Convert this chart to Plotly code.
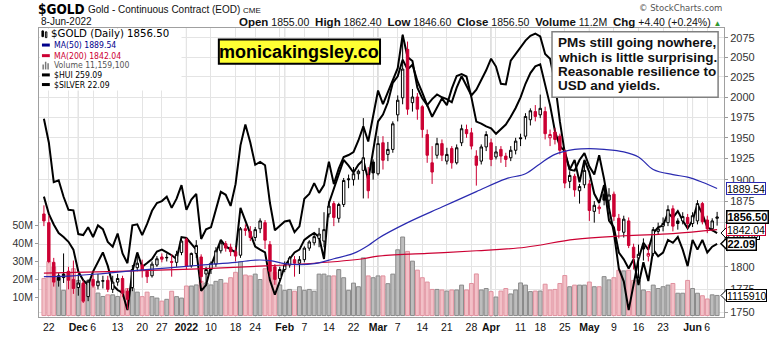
import math
import plotly.graph_objects as go

# ---------------- data ----------------
MONTH_DAYS = [
    (2021, 11, [19, 22, 23, 24, 26, 29, 30]),
    (2021, 12, [1, 2, 3, 6, 7, 8, 9, 10, 13, 14, 15, 16, 17, 20, 21, 22, 23, 27, 28, 29, 30, 31]),
    (2022, 1, [3, 4, 5, 6, 7, 10, 11, 12, 13, 14, 18, 19, 20, 21, 24, 25, 26, 27, 28, 31]),
    (2022, 2, [1, 2, 3, 4, 7, 8, 9, 10, 11, 14, 15, 16, 17, 18, 22, 23, 24, 25, 28]),
    (2022, 3, [1, 2, 3, 4, 7, 8, 9, 10, 11, 14, 15, 16, 17, 18, 21, 22, 23, 24, 25, 28, 29, 30, 31]),
    (2022, 4, [1, 4, 5, 6, 7, 8, 11, 12, 13, 14, 18, 19, 20, 21, 22, 25, 26, 27, 28, 29]),
    (2022, 5, [2, 3, 4, 5, 6, 9, 10, 11, 12, 13, 16, 17, 18, 19, 20, 23, 24, 25, 26, 27, 31]),
    (2022, 6, [1, 2, 3, 6, 7, 8]),
]
DATES = [f"{y}-{m:02d}-{d:02d}" for (y, m, days) in MONTH_DAYS for d in days]

OPEN = [1860, 1850, 1805, 1790, 1792, 1795, 1786, 1777, 1782, 1767,
        1786, 1779, 1784, 1785, 1775, 1783, 1787, 1773, 1777, 1799,
        1802, 1795, 1790, 1802, 1811, 1810, 1806, 1805, 1816, 1831,
        1801, 1815, 1811, 1792, 1797, 1803, 1818, 1826, 1822, 1817,
        1813, 1843, 1840, 1833, 1843, 1850, 1825, 1800, 1787, 1797,
        1802, 1808, 1804, 1808, 1821, 1827, 1832, 1829, 1860, 1872,
        1855, 1871, 1901, 1900, 1907, 1911, 1905, 1921, 1907, 1944,
        1930, 1936, 1978, 1999, 2060, 1993, 2000, 1988, 1954, 1920,
        1929, 1943, 1922, 1937, 1920, 1944, 1960, 1956, 1928, 1922,
        1939, 1944, 1927, 1936, 1928, 1926, 1935, 1950, 1952, 1972,
        1982, 1978, 1982, 1950, 1957, 1952, 1934, 1898, 1904, 1887,
        1894, 1895, 1863, 1866, 1883, 1876, 1883, 1855, 1839, 1852,
        1822, 1810, 1823, 1812, 1815, 1840, 1846, 1850, 1866, 1852,
        1852, 1856, 1849, 1852, 1872, 1853, 1843, 1855]
HIGH = [1870, 1858, 1810, 1793, 1815, 1800, 1807, 1792, 1785, 1786,
        1792, 1792, 1790, 1790, 1790, 1792, 1790, 1776, 1802, 1815,
        1808, 1797, 1806, 1812, 1815, 1815, 1814, 1818, 1832, 1833,
        1816, 1830, 1814, 1800, 1806, 1822, 1830, 1829, 1826, 1822,
        1845, 1848, 1846, 1845, 1855, 1853, 1829, 1803, 1800, 1806,
        1812, 1812, 1812, 1823, 1830, 1838, 1844, 1862, 1875, 1875,
        1873, 1902, 1906, 1915, 1912, 1974, 1915, 1924, 1952, 1952,
        1945, 1970, 2002, 2079, 2070, 2010, 2005, 1990, 1960, 1940,
        1950, 1948, 1938, 1940, 1942, 1966, 1966, 1962, 1935, 1942,
        1958, 1949, 1940, 1940, 1932, 1940, 1950, 1955, 1980, 1986,
        1990, 2003, 1988, 1960, 1962, 1955, 1936, 1910, 1907, 1895,
        1920, 1900, 1875, 1871, 1893, 1890, 1886, 1860, 1858, 1856,
        1826, 1825, 1832, 1825, 1845, 1850, 1856, 1870, 1870, 1855,
        1862, 1860, 1862, 1876, 1874, 1858, 1855, 1862.4]
LOW = [1846, 1804, 1778, 1778, 1782, 1775, 1770, 1768, 1760, 1762,
       1777, 1775, 1776, 1772, 1771, 1779, 1767, 1753, 1773, 1795,
       1788, 1782, 1788, 1800, 1805, 1806, 1789, 1800, 1813, 1797,
       1799, 1810, 1782, 1782, 1792, 1800, 1815, 1817, 1812, 1806,
       1810, 1835, 1829, 1829, 1838, 1820, 1789, 1780, 1785, 1794,
       1799, 1789, 1792, 1805, 1818, 1824, 1822, 1822, 1856, 1846,
       1850, 1868, 1890, 1893, 1900, 1878, 1878, 1900, 1905, 1912,
       1922, 1932, 1970, 1991, 1978, 1982, 1972, 1950, 1920, 1895,
       1925, 1922, 1918, 1913, 1918, 1940, 1950, 1936, 1893, 1918,
       1934, 1916, 1924, 1920, 1915, 1922, 1930, 1940, 1948, 1965,
       1970, 1974, 1948, 1940, 1942, 1930, 1890, 1890, 1880, 1872,
       1890, 1852, 1850, 1860, 1870, 1867, 1852, 1832, 1833, 1821,
       1797, 1787, 1807, 1806, 1812, 1836, 1840, 1846, 1840, 1842,
       1848, 1843, 1845, 1848, 1848, 1838, 1840, 1846.6]
CLOSE = [1852, 1806, 1783, 1785, 1788, 1785, 1776, 1782, 1762, 1784,
         1779, 1784, 1784.5, 1775, 1783, 1787, 1771, 1764, 1797, 1804,
         1796, 1789, 1803, 1809, 1808.5, 1810.5, 1805, 1814, 1829, 1801,
         1815, 1824, 1789, 1797, 1804, 1818, 1827, 1821, 1817, 1812,
         1843, 1841, 1833, 1842, 1852, 1830, 1795, 1786, 1797, 1802,
         1810, 1804, 1808, 1821, 1828, 1834, 1837, 1842, 1869, 1856,
         1871, 1899, 1900, 1907, 1910, 1926, 1887, 1908, 1943, 1923,
         1936, 1967, 1996, 2035, 1985, 2000, 1985, 1960, 1929, 1909,
         1943, 1929, 1930, 1920, 1938, 1961, 1955, 1940, 1917, 1939,
         1954, 1924, 1933, 1928, 1924, 1935, 1946, 1949, 1976, 1983,
         1976, 1986, 1955, 1954, 1948, 1935, 1896, 1905, 1888, 1892,
         1911, 1864, 1870, 1868, 1876, 1882, 1857, 1841, 1854, 1824,
         1810, 1814, 1820, 1815, 1842, 1843, 1849, 1865, 1846, 1849,
         1857, 1849, 1858, 1872, 1851, 1843, 1852, 1856.5]
PREV_CLOSE = 1862.0

VOLUME_M = [20.6, 30.0, 27.0, 21.0, 14.0, 24.0, 26.0, 19.5, 17.0, 19.5,
            16.0, 12.5, 10.6, 11.5, 11.5, 10.6, 14.0, 15.0, 15.0, 13.0,
            10.5, 13.0, 10.5, 9.7, 8.0, 9.0, 13.5, 10.5, 9.7, 16.4,
            16.4, 17.0, 19.0, 18.0, 17.0, 19.0, 20.0, 18.0, 21.0, 24.0,
            30.0, 22.5, 22.0, 23.0, 20.0, 26.0, 28.0, 24.0, 17.0, 14.0,
            14.5, 13.5, 16.0, 14.0, 14.5, 13.5, 23.0, 23.0, 22.0, 22.0,
            25.5, 21.0, 14.0, 18.0, 16.0, 32.0, 22.0, 21.0, 22.0, 22.0,
            17.7, 23.0, 36.5, 43.6, 35.6, 30.2, 25.2, 21.0, 18.6, 14.5,
            14.5, 14.2, 13.6, 14.2, 14.2, 16.9, 14.2, 17.8, 23.1, 14.2,
            15.0, 13.3, 10.3, 13.6, 15.0, 12.0, 14.2, 18.1, 16.9, 13.3,
            13.6, 13.6, 17.4, 14.2, 14.5, 17.8, 22.2, 16.0, 16.9, 16.9,
            16.9, 18.6, 16.0, 16.0, 21.6, 19.8, 21.0, 25.2, 24.8, 25.2,
            19.5, 19.5, 14.2, 13.3, 16.9, 15.0, 16.0, 16.9, 17.8, 12.4,
            12.4, 19.5, 15.0, 12.4, 11.0, 9.2, 11.5, 11.1591]

HUI = [270.7, 265.2, 261.8, 259.1, 257.8, 256.3, 253.8, 246.8, 244.0, 242.5,
       246.8, 249.8, 252.9, 248.6, 242.5, 240.9, 240.0, 234.5, 246.8, 252.9,
       248.3, 249.5, 250.8, 253.2, 253.8, 252.9, 252.0, 250.8, 257.8, 257.5,
       255.7, 253.8, 240.6, 242.5, 248.6, 252.6, 256.9, 254.8, 253.8, 252.9,
       267.1, 263.1, 259.4, 254.8, 253.8, 252.9, 244.0, 239.4, 243.7, 248.6,
       250.8, 252.9, 253.8, 256.9, 258.1, 259.1, 257.8, 250.8, 268.6, 273.2,
       277.8, 282.4, 280.6, 278.4, 280.9, 282.4, 276.0, 285.5, 294.7, 296.9,
       300.8, 307.0, 309.1, 314.4, 311.3, 312.8, 307.6, 303.9, 299.9, 301.8,
       303.3, 302.4, 301.8, 300.8, 305.5, 309.1, 306.1, 303.0, 304.8, 307.9,
       311.0, 314.7, 312.2, 306.7, 306.5, 314.1, 316.2, 318.4, 320.5, 322.0,
       322.7, 321.8, 316.2, 314.7, 307.0, 294.7, 284.6, 279.3, 279.0, 282.4,
       284.6, 280.3, 277.8, 283.9, 276.3, 267.1, 259.1, 247.7, 243.7, 234.5,
       242.5, 250.8, 256.0, 253.8, 259.1, 260.9, 261.5, 265.5, 264.0, 266.1,
       263.1, 260.6, 263.1, 268.3, 265.2, 260.9, 260.0, 259.09]

SILVER = [24.67, 24.18, 23.36, 23.40, 23.06, 22.79, 22.78, 22.29, 22.27, 22.43,
          22.23, 22.47, 22.39, 22.13, 22.03, 22.30, 21.89, 21.69, 22.47, 22.49,
          22.27, 22.50, 22.77, 22.93, 22.97, 23.06, 22.83, 23.02, 23.30, 22.79,
          23.00, 23.12, 22.19, 22.39, 22.43, 22.79, 23.16, 23.10, 22.87, 23.32,
          24.12, 24.55, 24.18, 23.72, 23.78, 23.71, 22.93, 22.37, 22.47, 22.55,
          22.57, 22.33, 22.45, 23.02, 23.12, 23.34, 23.14, 23.30, 23.78, 23.32,
          23.64, 23.88, 23.92, 23.98, 24.22, 24.51, 24.20, 24.71, 25.25, 24.97,
          25.21, 25.47, 25.71, 26.40, 25.94, 25.86, 25.31, 25.09, 24.95, 24.71,
          24.89, 25.09, 24.95, 25.29, 25.55, 25.59, 25.54, 25.11, 24.61, 24.57,
          24.51, 24.47, 24.36, 24.45, 24.55, 24.71, 24.89, 25.11, 25.39, 25.61,
          25.75, 25.79, 25.35, 24.95, 24.41, 24.10, 24.00, 23.62, 23.82, 23.36,
          23.82, 23.56, 23.12, 22.93, 23.30, 22.57, 22.43, 21.91, 21.77, 21.58,
          21.77, 21.24, 21.71, 21.32, 21.97, 21.83, 21.91, 22.17, 22.11, 22.23,
          21.97, 21.63, 22.17, 21.97, 22.17, 21.91, 22.03, 22.09]

MA50_IDX = [0, 6, 12, 19, 26, 32, 39, 43, 46, 49, 52, 55, 59, 63, 66, 68, 74, 81, 88, 94,
            98, 101, 104, 108, 111, 114, 118, 121, 124, 128, 131, 134, 137]
MA50 = [1789, 1790, 1792.5, 1796, 1799, 1802, 1805, 1807.5, 1807, 1803.5,
        1802.5, 1803.5, 1809, 1815, 1824, 1832, 1850, 1868, 1886, 1901,
        1907, 1919, 1930, 1936, 1937, 1936, 1933, 1927, 1912, 1906,
        1903, 1897, 1889.54]
MA200_IDX = [0, 15, 30, 45, 55, 65, 68, 78, 88, 98, 108, 118, 128, 137]
MA200 = [1793, 1795, 1797.5, 1801, 1804, 1809, 1812, 1815, 1818, 1822, 1831, 1835, 1837.5, 1842.04]

PRICE_TICKS = [1750, 1775, 1800, 1825, 1850, 1875, 1900, 1925, 1950, 1975, 2000, 2025, 2050, 2075]
VOL_TICKS = [10, 20, 30, 40, 50]

WEEK_TICKS = ["2021-11-22", "2021-11-29", "2021-12-06", "2021-12-13", "2021-12-20", "2021-12-27",
              "2022-01-10", "2022-01-18", "2022-01-24", "2022-01-31", "2022-02-07", "2022-02-14",
              "2022-02-22", "2022-02-28", "2022-03-07", "2022-03-14", "2022-03-21", "2022-03-28",
              "2022-04-04", "2022-04-11", "2022-04-18", "2022-04-25", "2022-05-09", "2022-05-16",
              "2022-05-23", "2022-05-31", "2022-06-06"]
WEEK_LABELS = ["22", "", "6", "13", "20", "27", "10", "18", "24", "", "7", "14", "22", "", "7", "14",
               "21", "28", "", "11", "18", "25", "9", "16", "23", "", "6"]
MONTH_TICKS = ["2021-12-01", "2022-01-03", "2022-02-01", "2022-03-01", "2022-04-01", "2022-05-02", "2022-06-01"]
MONTH_LABELS = ["Dec", "2022", "Feb", "Mar", "Apr", "May", "Jun"]

# ---------------- style ----------------
RED = "#cc0033"
BLACK = "#000000"
BLUE = "#2a2ab0"
ARIAL = "Liberation Sans, Arial, sans-serif"
VERD = "DejaVu Sans, Verdana, sans-serif"
VERDC = "DejaVu Sans Condensed, DejaVu Sans, sans-serif"

L, T, W, H = 27, 28, 697, 300
def PX(x):
    return (x - L) / W
def PY(y):
    return (T + H - y) / H

fig = go.Figure()

# volume (base axis)
prev = [PREV_CLOSE] + CLOSE[:-1]
down = [CLOSE[i] < prev[i] for i in range(len(CLOSE))]
fig.add_trace(go.Bar(
    x=DATES, y=VOLUME_M, yaxis="y",
    marker=dict(color=["#f2c0c7" if d else "#bdbdbd" for d in down],
                line=dict(color=["#e0909e" if d else "#8a8a8a" for d in down], width=1)),
    hoverinfo="skip"))

# overlays
fig.add_trace(go.Scatter(x=DATES, y=HUI, yaxis="y2", mode="lines",
                         line=dict(color=BLACK, width=2), hoverinfo="skip"))
fig.add_trace(go.Scatter(x=DATES, y=SILVER, yaxis="y3", mode="lines",
                         line=dict(color=BLACK, width=2), hoverinfo="skip"))

# moving averages
fig.add_trace(go.Scatter(x=[DATES[i] for i in MA200_IDX], y=MA200, yaxis="y4", mode="lines",
                         line=dict(color=RED, width=1.2, shape="spline"), hoverinfo="skip"))
fig.add_trace(go.Scatter(x=[DATES[i] for i in MA50_IDX], y=MA50, yaxis="y4", mode="lines",
                         line=dict(color=BLUE, width=1.2, shape="spline"), hoverinfo="skip"))

# candles: black when close >= previous close, red otherwise; hollow when close > open
for flag, col in ((False, BLACK), (True, RED)):
    idx = [i for i in range(len(CLOSE)) if down[i] == flag]
    fig.add_trace(go.Candlestick(
        x=[DATES[i] for i in idx],
        open=[OPEN[i] for i in idx], high=[HIGH[i] for i in idx],
        low=[LOW[i] for i in idx], close=[CLOSE[i] for i in idx],
        yaxis="y4", whiskerwidth=0,
        increasing=dict(line=dict(color=col, width=1), fillcolor="white"),
        decreasing=dict(line=dict(color=col, width=1), fillcolor=col),
        hoverinfo="skip"))

# ticks
all_ticks = sorted([(DATES.index(d), d, t) for d, t in zip(WEEK_TICKS, WEEK_LABELS)] +
                   [(DATES.index(d), d, f"<b>{t}</b>") for d, t in zip(MONTH_TICKS, MONTH_LABELS)])

shapes = []
for d in MONTH_TICKS:
    shapes.append(dict(type="line", xref="x", yref="paper", x0=d, x1=d, y0=0, y1=1,
                       line=dict(color="#b4b4b4", width=1), layer="below"))

# legend white box
shapes.append(dict(type="rect", xref="paper", yref="paper", x0=PX(28), x1=PX(172), y0=PY(93), y1=PY(29),
                   fillcolor="white", line=dict(width=0), layer="above"))
# legend icons
shapes += [
    dict(type="rect", xref="paper", yref="paper", x0=PX(30), x1=PX(31.5), y0=PY(37), y1=PY(31),
         fillcolor=BLACK, line=dict(color=BLACK, width=1)),
    dict(type="rect", xref="paper", yref="paper", x0=PX(33.5), x1=PX(35), y0=PY(38), y1=PY(32),
         fillcolor="white", line=dict(color=BLACK, width=1)),
    dict(type="line", xref="paper", yref="paper", x0=PX(30), x1=PX(38), y0=PY(45.7), y1=PY(45.7),
         line=dict(color="#00008b", width=3)),
    dict(type="line", xref="paper", yref="paper", x0=PX(30), x1=PX(38), y0=PY(56.7), y1=PY(56.7),
         line=dict(color=RED, width=3)),
    dict(type="rect", xref="paper", yref="paper", x0=PX(30.5), x1=PX(32), y0=PY(71), y1=PY(66),
         fillcolor="#777", line=dict(width=0)),
    dict(type="rect", xref="paper", yref="paper", x0=PX(33), x1=PX(34.5), y0=PY(71), y1=PY(63),
         fillcolor="#777", line=dict(width=0)),
    dict(type="rect", xref="paper", yref="paper", x0=PX(35.5), x1=PX(37), y0=PY(71), y1=PY(64.5),
         fillcolor="#777", line=dict(width=0)),
    dict(type="line", xref="paper", yref="paper", x0=PX(30), x1=PX(38), y0=PY(76.7), y1=PY(76.7),
         line=dict(color=BLACK, width=3)),
    dict(type="line", xref="paper", yref="paper", x0=PX(30), x1=PX(38), y0=PY(86.7), y1=PY(86.7),
         line=dict(color=BLACK, width=3)),
]
# yellow site box and comment box
shapes.append(dict(type="rect", xref="paper", yref="paper", x0=PX(210), x1=PX(374), y0=PY(65), y1=PY(40),
                   fillcolor="#ffff33", line=dict(color=BLACK, width=2), layer="above"))
shapes.append(dict(type="rect", xref="paper", yref="paper", x0=PX(549), x1=PX(718), y0=PY(100), y1=PY(32),
                   fillcolor="white", line=dict(color="#808080", width=1.5), layer="above"))

ann = []
def txt(x, y, s, size, color="#000", family=ARIAL, xanchor="left", **kw):
    ann.append(dict(xref="paper", yref="paper", x=PX(x), y=PY(y), text=s, showarrow=False,
                    xanchor=xanchor, yanchor="middle", font=dict(size=size, color=color, family=family), **kw))

# header
txt(24, 8, "<b>$GOLD</b>", 13.5, family="DejaVu Sans Condensed, Liberation Sans Narrow, sans-serif")
txt(75, 9, "Gold - Continuous Contract (EOD) <span style='font-size:8px'>CME</span>", 10, "#111")
txt(27, 21.5, "8-Jun-2022", 10, "#111")
txt(724, 21.5,
    "<span style='font-size:11.5px'><b>Open</b></span> 1855.00  <span style='font-size:11.5px'><b>High</b></span> 1862.40  "
    "<span style='font-size:11.5px'><b>Low</b></span> 1846.60  <span style='font-size:11.5px'><b>Close</b></span> 1856.50  "
    "<span style='font-size:11.5px'><b>Volume</b></span> 11.2M  <span style='font-size:11.5px'><b>Chg</b></span> +4.40 (+0.24%) "
    "<span style='font-size:8px;color:#2f9a2f'>▲</span>",
    10.5, "#111", xanchor="right")
txt(724, 7, "© StockCharts.com", 8.5, "#555", family=VERD, xanchor="right")

# legend texts
txt(37, 34, "$GOLD (Daily) 1856.50", 10.2, "#000", family=VERD)
txt(40, 45.7, "MA(50) 1889.54", 8.6, "#00008b", family=VERDC)
txt(40, 56.7, "MA(200) 1842.04", 8.6, RED, family=VERDC)
txt(40, 66.7, "Volume 11,159,100", 8.6, "#555", family=VERDC)
txt(40, 76.7, "$HUI 259.09", 8.6, "#000", family=VERDC)
txt(40, 86.7, "$SILVER 22.09", 8.6, "#000", family=VERDC)

# site box text
txt(292, 52.5, "<b>monicakingsley.co</b>", 18, "#000", xanchor="center")
# comment
for yy, line in zip([43, 58.5, 73.3, 88],
                    ["PMs still going nowhere,", "which is little surprising.",
                     "Reasonable resilience to", "USD and yields."]):
    txt(553, yy, f"<b>{line}</b>", 13.5, "#111")

# right-hand value labels
def vlabel(yref, yval, s, border, bold=False, bw=1):
    ann.append(dict(xref="paper", yref=yref, x=PX(726), y=yval, text=(f"<b>{s}</b>" if bold else s),
                    showarrow=False, xanchor="left", yanchor="middle", bgcolor="white",
                    bordercolor=border, borderwidth=bw, borderpad=0, height=11,
                    font=dict(size=11 if bold else 10.5, color="#000", family=ARIAL)))
    shapes.append(dict(type="path", xref="paper", yref=yref, xsizemode="pixel", ysizemode="pixel",
                       xanchor=PX(726), yanchor=yval, path="M -5,0 L 1,6 L 1,-6 Z",
                       fillcolor="white", line=dict(color=border, width=bw)))

vlabel("y4", math.log10(MA50[-1]), "1889.54", BLUE)
vlabel("y2", HUI[-1], "259.09", BLACK)
vlabel("y4", math.log10(MA200[-1]), "1842.04", RED)
vlabel("y4", math.log10(CLOSE[-1]), "1856.50", BLACK, bold=True, bw=1.5)
vlabel("y3", SILVER[-1], "22.09", BLACK, bold=True, bw=1.5)
vlabel("y", VOLUME_M[-1], "1115910", BLACK)

fig.update_layout(
    width=772, height=345, margin=dict(l=L, r=772 - L - W, t=T, b=345 - T - H),
    paper_bgcolor="white", plot_bgcolor="white", showlegend=False,
    bargap=0.2, boxgap=0.3, boxmode="overlay",
    xaxis=dict(type="category", categoryorder="array", categoryarray=DATES,
               range=[-1.0, 138.4], tickvals=[t[1] for t in all_ticks], ticktext=[t[2] for t in all_ticks],
               tickangle=0, showgrid=True, gridcolor="#e4e4e4", gridwidth=1, ticks="",
               tickfont=dict(family=ARIAL, size=10.5, color="#111"),
               showline=True, linecolor="#a0a0a0", linewidth=1, mirror=True,
               rangeslider=dict(visible=False), fixedrange=True),
    yaxis=dict(range=[-0.8, 159.6], side="left", tickvals=VOL_TICKS, ticktext=[f"{v}M" for v in VOL_TICKS],
               showgrid=False, zeroline=False, ticks="outside", ticklen=3, tickcolor="#999",
               tickfont=dict(family=ARIAL, size=10.5, color="#333"),
               showline=True, linecolor="#a0a0a0", fixedrange=True),
    yaxis2=dict(overlaying="y", range=[232.3, 324.5], visible=False, fixedrange=True),
    yaxis3=dict(overlaying="y", range=[20.58, 26.54], visible=False, fixedrange=True),
    yaxis4=dict(overlaying="y", type="log", side="right",
                range=[math.log10(1744.8), math.log10(2087.5)],
                tickvals=PRICE_TICKS, ticktext=[str(v) for v in PRICE_TICKS],
                showgrid=True, gridcolor="#e4e4e4", zeroline=False,
                ticks="outside", ticklen=3, tickcolor="#999",
                tickfont=dict(family=ARIAL, size=11, color="#333"),
                showline=True, linecolor="#a0a0a0", fixedrange=True),
    shapes=shapes, annotations=ann,
)

fig.write_html("out.html")
